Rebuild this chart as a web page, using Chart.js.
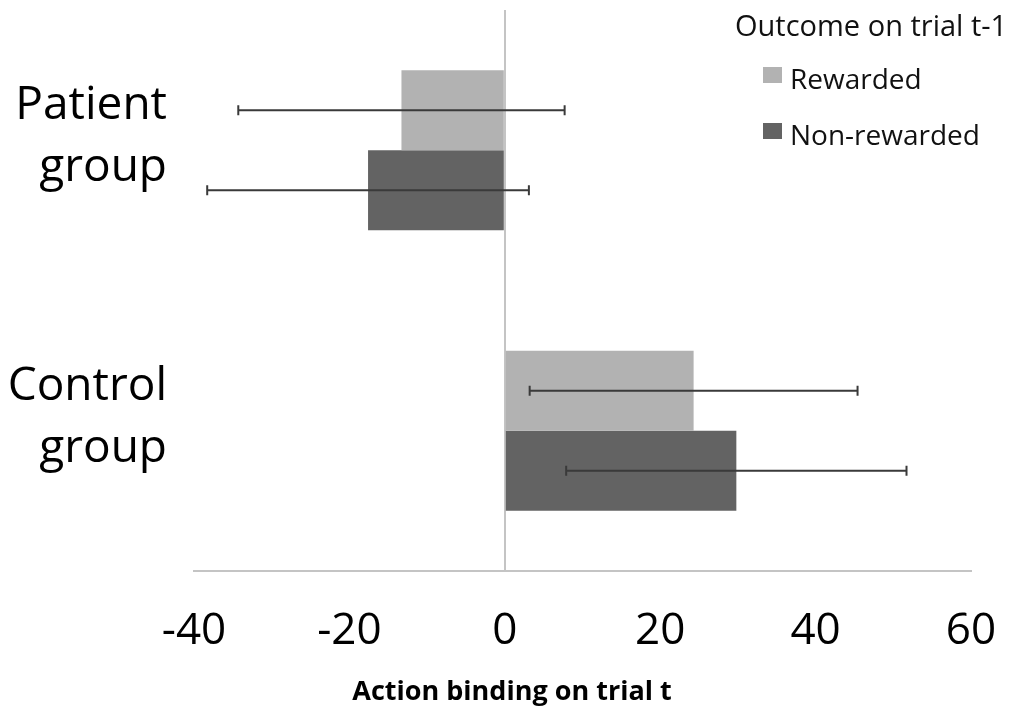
<!DOCTYPE html>
<html>
<head>
<meta charset="utf-8">
<script src="https://cdn.jsdelivr.net/npm/chart.js@4.4.1/dist/chart.umd.min.js"></script>
<style>
  html, body { margin: 0; padding: 0; background: #fff; }
  #wrap { width: 1014px; height: 710px; }
</style>
</head>
<body>
<div id="wrap"><canvas id="c" width="1014" height="710"></canvas></div>
<script>
// Group labels (two lines each), bar values and their error half-widths
const categories = [['Patient', 'group'], ['Control', 'group']];
const seriesNames = ['Rewarded', 'Non-rewarded'];
const rewarded = [-13.3, 24.3];
const nonRewarded = [-17.6, 29.8];
const rewardedErr = [21.0, 21.1];
const nonRewardedErr = [20.7, 21.9];
const xTicks = [-40, -20, 0, 20, 40, 60];
const legendTitle = 'Outcome on trial t-1';
const xTitle = 'Action binding on trial t';

const FONT = "'Open Sans', 'DejaVu Sans', sans-serif";
const LIGHT = '#b2b2b2';
const DARK = '#636363';

// Horizontal error bars with small end caps
const errorBars = {
  id: 'errorBars',
  afterDatasetsDraw(chart) {
    const ctx = chart.ctx;
    const xs = chart.scales.x;
    chart.data.datasets.forEach((ds, i) => {
      const meta = chart.getDatasetMeta(i);
      meta.data.forEach((bar, j) => {
        const v = ds.data[j], e = ds.errors[j];
        const x1 = xs.getPixelForValue(v - e);
        const x2 = xs.getPixelForValue(v + e);
        const y = bar.y;
        ctx.save();
        ctx.strokeStyle = '#3a3a3a';
        ctx.lineWidth = 2;
        ctx.beginPath();
        ctx.moveTo(x1, y); ctx.lineTo(x2, y);
        ctx.moveTo(x1, y - 5); ctx.lineTo(x1, y + 5);
        ctx.moveTo(x2, y - 5); ctx.lineTo(x2, y + 5);
        ctx.stroke();
        ctx.restore();
      });
    });
  }
};

// Legend block in the upper right corner, plus the x-axis caption
const annotations = {
  id: 'annotations',
  afterDraw(chart) {
    const ctx = chart.ctx;
    ctx.save();
    ctx.fillStyle = '#111';
    ctx.textBaseline = 'alphabetic';
    ctx.textAlign = 'left';
    ctx.font = `29px ${FONT}`;
    ctx.fillText(legendTitle, 735, 36);
    chart.data.datasets.forEach((ds, i) => {
      const y = 67 + i * 56;
      ctx.fillStyle = ds.backgroundColor;
      ctx.fillRect(763, y, 19, 16);
      ctx.fillStyle = '#111';
      ctx.font = `28px ${FONT}`;
      ctx.fillText(ds.label, 790, y + 22);
    });
    ctx.fillStyle = '#000';
    ctx.textAlign = 'center';
    ctx.font = `bold 27px ${FONT}`;
    ctx.fillText(xTitle, 512, 700);
    ctx.restore();
  }
};

// Keep tick labels from pushing the plot area inwards
function noOverhang(scale) {
  scale.paddingTop = 0;
  scale.paddingBottom = 0;
  scale.paddingLeft = 0;
  scale.paddingRight = 0;
}

new Chart(document.getElementById('c'), {
  type: 'bar',
  data: {
    labels: categories,
    datasets: [
      { label: seriesNames[0], data: rewarded, errors: rewardedErr, backgroundColor: LIGHT },
      { label: seriesNames[1], data: nonRewarded, errors: nonRewardedErr, backgroundColor: DARK }
    ]
  },
  options: {
    indexAxis: 'y',
    responsive: false,
    animation: false,
    events: [],
    layout: { padding: { top: 10, right: 43, left: 0, bottom: 57 } },
    datasets: { bar: { barPercentage: 1.0, categoryPercentage: 0.571 } },
    scales: {
      x: {
        min: -40, max: 60,
        afterBuildTicks(scale) { scale.ticks = xTicks.map(v => ({ value: v })); },
        afterFit(scale) { scale.height = 82; noOverhang(scale); },
        ticks: {
          color: '#000',
          padding: 34,
          font: { family: FONT, size: 44 },
          callback: v => String(v)
        },
        grid: {
          drawTicks: false,
          lineWidth: 2,
          color: c => (c.tick && c.tick.value === 0 ? '#c4c4c4' : 'rgba(0,0,0,0)')
        },
        border: { display: true, color: '#c4c4c4', width: 2 }
      },
      y: {
        afterFit(scale) { scale.width = 194; noOverhang(scale); },
        ticks: {
          color: '#000',
          padding: 19,
          labelOffset: -13,
          font: { family: FONT, size: 46, lineHeight: 1.35 }
        },
        grid: { display: false },
        border: { display: false }
      }
    },
    plugins: {
      legend: { display: false },
      tooltip: { enabled: false },
      title: { display: false }
    }
  },
  plugins: [errorBars, annotations]
});
</script>
</body>
</html>
